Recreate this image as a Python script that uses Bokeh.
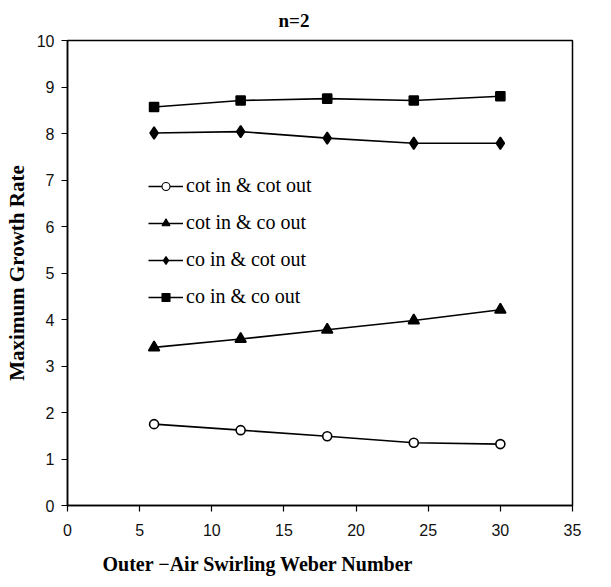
from bokeh.plotting import figure
from bokeh.models import (Legend, LegendItem, Title, FixedTicker, Range1d,
                          ColumnDataSource)
from bokeh.embed import file_html
from bokeh.resources import INLINE

# Outer-air swirling Weber number
weber = [6, 12, 18, 24, 30]

# Maximum growth rate for each swirl combination (n = 2)
cot_in_cot_out = [1.75, 1.62, 1.49, 1.35, 1.32]
cot_in_co_out = [3.40, 3.58, 3.78, 3.98, 4.21]
co_in_cot_out = [8.01, 8.04, 7.90, 7.79, 7.79]
co_in_co_out = [8.57, 8.71, 8.75, 8.71, 8.80]

series_labels = ["cot in & cot out", "cot in & co out",
                 "co in & cot out", "co in & co out"]

x_ticks = [0, 5, 10, 15, 20, 25, 30, 35]
y_ticks = list(range(0, 11))

SERIF = "Liberation Serif"
SANS = "Liberation Sans"

p = figure(width=611, height=587, output_backend="svg", toolbar_location=None,
           x_range=Range1d(0, 35), y_range=Range1d(0, 10),
           min_border_left=67, min_border_right=39,
           min_border_top=40, min_border_bottom=82)
p.xgrid.visible = False
p.ygrid.visible = False
p.outline_line_color = "black"
p.outline_line_width = 1.5
p.background_fill_color = "white"
p.border_fill_color = "white"

for ax in (p.xaxis[0], p.yaxis[0]):
    ax.axis_line_color = "black"
    ax.axis_line_width = 1.5
    ax.major_tick_line_color = "black"
    ax.major_tick_line_width = 1.2
    ax.major_tick_out = 6
    ax.major_tick_in = 0
    ax.minor_tick_line_color = None
    ax.major_label_text_font = SANS
    ax.major_label_text_font_size = "16px"
    ax.major_label_text_color = "#111111"

p.xaxis.ticker = FixedTicker(ticks=x_ticks)
p.yaxis.ticker = FixedTicker(ticks=y_ticks)
p.xaxis.major_label_standoff = 12
p.yaxis.major_label_standoff = 7

p.yaxis.axis_label = "Maximum Growth Rate"
p.yaxis.axis_label_text_font = SERIF
p.yaxis.axis_label_text_font_style = "bold"
p.yaxis.axis_label_text_font_size = "21px"
p.yaxis.axis_label_text_color = "black"
p.yaxis.axis_label_standoff = 5

p.add_layout(Title(text="Outer \u2212Air Swirling Weber Number", align="left",
                   offset=35, standoff=24, vertical_align="bottom",
                   text_font=SERIF, text_font_style="bold",
                   text_font_size="20px", text_color="black"), "below")
p.add_layout(Title(text="n=2", align="left", offset=211, standoff=15,
                   vertical_align="top",
                   text_font=SERIF, text_font_style="bold",
                   text_font_size="19px", text_color="black"), "above")

src = ColumnDataSource(dict(x=weber, a=cot_in_cot_out, b=cot_in_co_out,
                            c=co_in_cot_out, d=co_in_co_out))

# column, marker, plot size, legend key size, fill
specs = [
    ("a", "circle", 9, 5, "white"),
    ("b", "triangle", 11, 7, "black"),
    ("c", "diamond", 12, 9, "black"),
    ("d", "square", 9, 7, "black"),
]

items = []
for (col, marker, size, key_size, fill), label in zip(specs, series_labels):
    line = p.line("x", col, source=src, line_color="black", line_width=1.6)
    p.scatter("x", col, source=src, marker=marker, size=size,
              fill_color=fill, line_color="black", line_width=1.6)
    # smaller marker used only for the legend key
    key = p.scatter("x", col, source=src, marker=marker, size=key_size,
                    fill_color=fill, line_color="black", line_width=1.1,
                    visible=False)
    items.append(LegendItem(label=label, renderers=[line, key]))

legend = Legend(items=items, location=(81, 197), orientation="vertical",
                background_fill_alpha=0, border_line_color=None,
                padding=0, margin=0, spacing=14, glyph_width=35,
                glyph_height=20, label_height=20, label_standoff=3,
                label_text_font=SERIF, label_text_font_size="20px",
                label_text_color="black", click_policy="none")
p.add_layout(legend)

open("out.html", "w").write(file_html(p, INLINE))
